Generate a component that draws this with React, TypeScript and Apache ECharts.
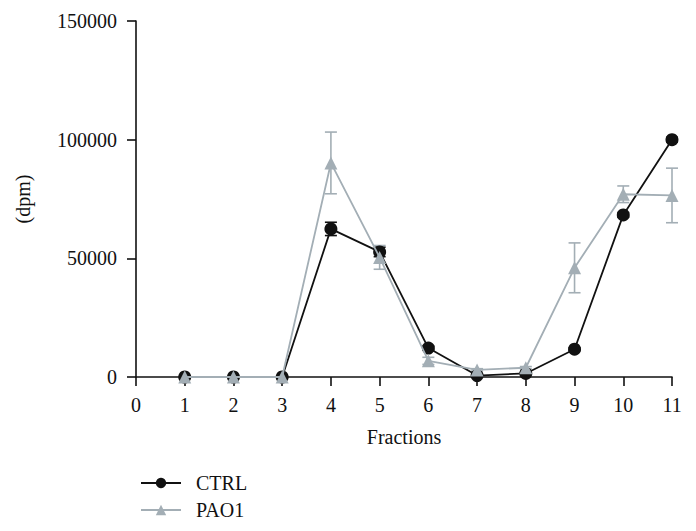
import React, { useEffect, useRef } from "react";
import * as echarts from "echarts";

const fractions = [1, 2, 3, 4, 5, 6, 7, 8, 9, 10, 11];
const ctrlValues = [0, 0, 0, 62400, 52700, 12200, 600, 1500, 11700, 68300, 100000];
const ctrlErrors = [0, 0, 0, 2800, 2000, 800, 300, 300, 600, 1000, 1000];
const pao1Values = [0, 0, 0, 90200, 50400, 6800, 3000, 3900, 46000, 77000, 76500];
const pao1Errors = [0, 0, 0, 13000, 5000, 1500, 500, 500, 10500, 3500, 11500];
const yTicks = [0, 50000, 100000, 150000];

const FONT = "Liberation Serif";
const CTRL_COLOR = "#111111";
const PAO1_COLOR = "#a3aeb5";

function errorSeries(name: string, values: number[], errors: number[], color: string) {
  return {
    type: "custom",
    name: name + "-err",
    z: 1,
    silent: true,
    data: fractions.map((f, i) => [f, values[i], errors[i]]),
    renderItem: (params: any, api: any) => {
      const x = api.value(0);
      const v = api.value(1);
      const e = api.value(2);
      if (!e) return null;
      const top = api.coord([x, v + e]);
      const bot = api.coord([x, v - e]);
      const hw = 6;
      const style = { stroke: color, lineWidth: 1.6 };
      return {
        type: "group",
        children: [
          { type: "line", shape: { x1: top[0], y1: top[1], x2: bot[0], y2: bot[1] }, style },
          { type: "line", shape: { x1: top[0] - hw, y1: top[1], x2: top[0] + hw, y2: top[1] }, style },
          { type: "line", shape: { x1: bot[0] - hw, y1: bot[1], x2: bot[0] + hw, y2: bot[1] }, style },
        ],
      };
    },
  };
}

export default function App() {
  const ref = useRef<HTMLDivElement>(null);
  useEffect(() => {
    if (!ref.current) return;
    const chart = echarts.init(ref.current, null, { renderer: "svg" });
    chart.setOption({
      animation: false,
      backgroundColor: "#ffffff",
      textStyle: { fontFamily: FONT },
      grid: { left: 136, right: 24, top: 21, bottom: 154 },
      legend: {
        orient: "vertical",
        left: 135,
        top: 468,
        itemWidth: 40,
        itemHeight: 13,
        itemGap: 7,
        data: ["CTRL", "PAO1"],
        textStyle: { fontFamily: FONT, fontSize: 20, color: "#111", padding: [0, 0, 0, 10] },
      },
      xAxis: {
        type: "value",
        min: 0,
        max: 11,
        interval: 1,
        name: "Fractions",
        nameLocation: "middle",
        nameGap: 50,
        nameTextStyle: { fontFamily: FONT, fontSize: 20, color: "#111" },
        axisLine: { show: true, lineStyle: { color: "#111", width: 1.6 } },
        axisTick: { show: true, length: 9, lineStyle: { color: "#111", width: 1.6 } },
        axisLabel: { fontFamily: FONT, fontSize: 20, color: "#111", margin: 18 },
        splitLine: { show: false },
      },
      yAxis: {
        type: "value",
        min: yTicks[0],
        max: yTicks[yTicks.length - 1],
        interval: 50000,
        name: "(dpm)",
        nameLocation: "middle",
        nameGap: 103,
        nameRotate: 90,
        nameTextStyle: { fontFamily: FONT, fontSize: 20, color: "#111" },
        axisLine: { show: true, lineStyle: { color: "#111", width: 1.6 } },
        axisTick: { show: true, length: 9, lineStyle: { color: "#111", width: 1.6 } },
        axisLabel: {
          fontFamily: FONT,
          fontSize: 20,
          color: "#111",
          margin: 19,
          formatter: (v: number) => String(v),
        },
        splitLine: { show: false },
      },
      series: [
        errorSeries("CTRL", ctrlValues, ctrlErrors, CTRL_COLOR),
        {
          type: "line",
          name: "CTRL",
          z: 2,
          data: fractions.map((f, i) => [f, ctrlValues[i]]),
          symbol: "circle",
          symbolSize: 13,
          itemStyle: { color: CTRL_COLOR },
          lineStyle: { color: CTRL_COLOR, width: 1.8 },
        },
        errorSeries("PAO1", pao1Values, pao1Errors, PAO1_COLOR),
        {
          type: "line",
          name: "PAO1",
          z: 3,
          data: fractions.map((f, i) => [f, pao1Values[i]]),
          symbol: "triangle",
          symbolSize: 13,
          itemStyle: { color: PAO1_COLOR },
          lineStyle: { color: PAO1_COLOR, width: 1.8 },
        },
      ],
    });
    return () => chart.dispose();
  }, []);
  return (
    <div
      ref={ref}
      style={{ position: "fixed", left: 0, top: 0, width: 696, height: 531 }}
    />
  );
}
